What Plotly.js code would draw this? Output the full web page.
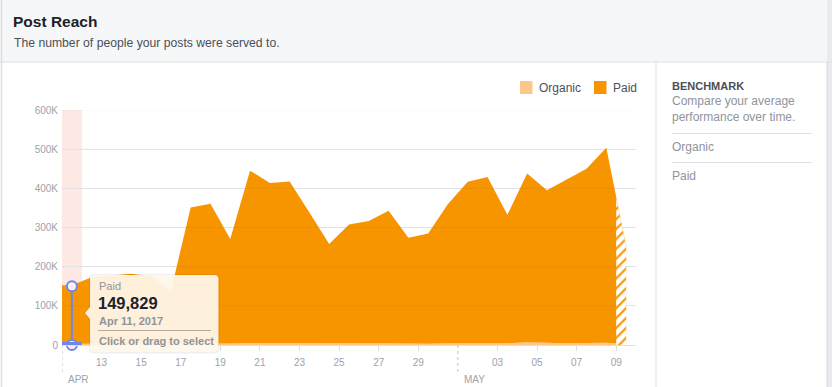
<!DOCTYPE html>
<html>
<head>
<meta charset="utf-8">
<script src="https://cdn.plot.ly/plotly-3.0.1.min.js"></script>
<style>
  html, body { margin: 0; padding: 0; background: #ffffff; }
  #chart { width: 832px; height: 387px; }
</style>
</head>
<body>
<div id="chart"></div>
<script>
// ---------------- data ----------------
const days = [
  '2017-04-11','2017-04-12','2017-04-13','2017-04-14','2017-04-15','2017-04-16','2017-04-17',
  '2017-04-18','2017-04-19','2017-04-20','2017-04-21','2017-04-22','2017-04-23','2017-04-24',
  '2017-04-25','2017-04-26','2017-04-27','2017-04-28','2017-04-29','2017-04-30','2017-05-01',
  '2017-05-02','2017-05-03','2017-05-04','2017-05-05','2017-05-06','2017-05-07','2017-05-08',
  '2017-05-09'
];
const paid = [
  149829, 170000, 175000, 179000, 172000, 134000, 347000,
  356000, 267000, 440000, 409000, 413000, 334000, 254000,
  304000, 312000, 338000, 270000, 281000, 356000, 412000,
  424000, 328000, 431000, 390000, 417000, 445000, 498000,
  250000
];
const organic = [
  3000, 3200, 3500, 3100, 3300, 2800, 4200,
  4500, 3900, 5200, 4800, 4600, 4100, 3600,
  3900, 4300, 4700, 3800, 3500, 4200, 4600,
  5100, 4400, 6800, 5200, 4700, 5000, 5600,
  2500
];
const seriesNames = ['Organic', 'Paid'];
const yTickVals = [0, 100000, 200000, 300000, 400000, 500000, 600000];
const yTickText = ['0', '100K', '200K', '300K', '400K', '500K', '600K'];
const xTickDates = ['2017-04-13','2017-04-15','2017-04-17','2017-04-19','2017-04-21','2017-04-23',
  '2017-04-25','2017-04-27','2017-04-29','2017-05-03','2017-05-05','2017-05-07','2017-05-09'];
const xTickText = ['13','15','17','19','21','23','25','27','29','03','05','07','09'];
const monthLabels = ['APR', 'MAY'];
const monthStarts = ['2017-04-11', '2017-05-01'];
const selectedIndex = 0;
const selectedDateLabel = 'Apr 11, 2017';

// ---------------- styling / geometry ----------------
const FONT = 'Liberation Sans, Arial, sans-serif';
const C_ORANGE = '#f69500';
const C_ORGANIC = '#fdc68a';
const C_BLUE = '#6f86e6';
const C_GREY = '#90949c';
const C_TICK = '#9ea2a9';
const C_LINE = '#dddfe2';
const W = 832, H = 387, L = 62, R = 636, T = 110, B = 345;
const px = x => (x - L) / (R - L);
const py = y => (B - y) / (B - T);

const noon = d => d + ' 12:00';
const xs = days.map(noon);
const total = paid.map((v, i) => v + organic[i]);
const n = days.length;

// left edge of first day carries first value (chart extends area to the day start)
const xsExt = [days[0] + ' 00:00'].concat(xs);
const organicExt = [organic[0]].concat(organic);
const paidExt = [paid[0]].concat(paid);

// partial last day (hatched): from the last day's start to its point
const hatchX = [days[n - 1] + ' 00:00', xs[n - 1]];
const hatchY = [(total[n - 2] + total[n - 1]) / 2, total[n - 1]];

const traces = [
  {
    name: seriesNames[0], x: xsExt, y: organicExt, type: 'scatter', mode: 'lines',
    stackgroup: 'one', fillcolor: C_ORGANIC, line: { width: 0, color: C_ORGANIC },
    hoverinfo: 'skip', showlegend: false
  },
  {
    name: seriesNames[1], x: xsExt, y: paidExt, type: 'scatter', mode: 'lines',
    stackgroup: 'one', fillcolor: C_ORANGE, line: { width: 0, color: C_ORANGE },
    hoverinfo: 'skip', showlegend: false
  },
  {
    name: 'partial', x: hatchX, y: hatchY, type: 'scatter', mode: 'lines',
    fill: 'tozeroy', fillcolor: '#ffffff',
    fillpattern: { shape: '/', fgcolor: C_ORANGE, bgcolor: '#ffffff', size: 7, solidity: 0.3 },
    line: { width: 0.6, color: '#fde2bd' }, hoverinfo: 'skip', showlegend: false
  },
  {
    name: 'selected', x: [xs[selectedIndex], xs[selectedIndex]], y: [0, paid[selectedIndex]],
    type: 'scatter', mode: 'lines+markers',
    line: { color: C_BLUE, width: 2 },
    marker: { symbol: 'circle', size: 10, color: '#fdf1ef', line: { color: C_BLUE, width: 2 } },
    hoverinfo: 'skip', showlegend: false, cliponaxis: false
  }
];

function rr(x0, y0, x1, y1, r, notch) {
  let p = `M ${px(x0 + r)},${py(y0)} L ${px(x1 - r)},${py(y0)} Q ${px(x1)},${py(y0)} ${px(x1)},${py(y0 + r)}`;
  p += ` L ${px(x1)},${py(y1 - r)} Q ${px(x1)},${py(y1)} ${px(x1 - r)},${py(y1)}`;
  p += ` L ${px(x0 + r)},${py(y1)} Q ${px(x0)},${py(y1)} ${px(x0)},${py(y1 - r)}`;
  if (notch) {
    p += ` L ${px(x0)},${py(notch + 6)} L ${px(x0 - 5)},${py(notch)} L ${px(x0)},${py(notch - 6)}`;
  }
  p += ` L ${px(x0)},${py(y0 + r)} Q ${px(x0)},${py(y0)} ${px(x0 + r)},${py(y0)} Z`;
  return p;
}

const shapes = [
  { type: 'rect', xref: 'paper', yref: 'paper', x0: px(0), x1: px(W), y0: py(62), y1: py(0),
    fillcolor: '#f6f7f9', line: { width: 0 }, layer: 'below' },
  { type: 'line', xref: 'paper', yref: 'paper', x0: px(0), x1: px(W), y0: py(62), y1: py(62),
    line: { color: C_LINE, width: 1 } },
  { type: 'line', xref: 'paper', yref: 'paper', x0: px(1.5), x1: px(1.5), y0: py(0), y1: py(H),
    line: { color: C_LINE, width: 1.5 } },
  { type: 'line', xref: 'paper', yref: 'paper', x0: px(656), x1: px(656), y0: py(62), y1: py(H),
    line: { color: C_LINE, width: 1 } },
  { type: 'rect', xref: 'paper', yref: 'paper', x0: px(827), x1: px(W + 2), y0: py(0), y1: py(H),
    fillcolor: '#e9ebee', line: { width: 0 }, layer: 'below' },
  { type: 'line', xref: 'paper', yref: 'paper', x0: px(827), x1: px(827), y0: py(62), y1: py(H),
    line: { color: '#d3d6db', width: 1 } },
  { type: 'line', xref: 'paper', yref: 'paper', x0: px(672), x1: px(812), y0: py(133.5), y1: py(133.5),
    line: { color: C_LINE, width: 1 } },
  { type: 'line', xref: 'paper', yref: 'paper', x0: px(672), x1: px(812), y0: py(162.5), y1: py(162.5),
    line: { color: C_LINE, width: 1 } },
  { type: 'rect', xref: 'paper', yref: 'paper', x0: px(520), x1: px(532.5), y0: py(94), y1: py(81),
    fillcolor: C_ORGANIC, line: { width: 0 } },
  { type: 'rect', xref: 'paper', yref: 'paper', x0: px(594), x1: px(606.5), y0: py(94), y1: py(81),
    fillcolor: C_ORANGE, line: { width: 0 } },
  { type: 'rect', xref: 'x', yref: 'y', x0: days[selectedIndex], x1: days[selectedIndex + 1],
    y0: 0, y1: 600000, fillcolor: '#fde8e3', line: { width: 0 }, layer: 'below' },
  { type: 'line', xref: 'x', yref: 'paper', x0: days[selectedIndex], x1: days[selectedIndex + 1],
    y0: py(343.5), y1: py(343.5), line: { color: C_BLUE, width: 3 } }
];
monthStarts.forEach(d => shapes.push({
  type: 'line', xref: 'x', yref: 'paper', x0: d, x1: d, y0: py(345), y1: py(373),
  line: { color: '#bec3c9', width: 1, dash: 'dot' }
}));
yTickVals.slice(1).forEach(v => shapes.push({
  type: 'line', xref: 'paper', yref: 'y', x0: 0, x1: 1, y0: v, y1: v,
  line: { color: 'rgba(40,30,20,0.045)', width: 1 }, layer: 'above'
}));
shapes.push({ type: 'path', xref: 'paper', yref: 'paper', path: rr(89, 274, 219.5, 353.5, 5, 313),
  fillcolor: 'rgba(0,0,0,0.06)', line: { width: 0 }, layer: 'above' });
shapes.push({ type: 'path', xref: 'paper', yref: 'paper', path: rr(90, 275, 218.5, 352, 4, 313),
  fillcolor: 'rgba(255,247,235,0.93)', line: { width: 0 }, layer: 'above' });
shapes.push({ type: 'line', xref: 'paper', yref: 'paper', x0: px(98), x1: px(211), y0: py(330.5), y1: py(330.5),
  line: { color: '#b3aca2', width: 1 }, layer: 'above' });

function ann(text, x, y, size, color, opts) {
  return Object.assign({
    text: text, xref: 'paper', yref: 'paper', x: px(x), y: py(y),
    xanchor: 'left', yanchor: 'middle', showarrow: false, borderpad: 0,
    font: { family: FONT, size: size, color: color }
  }, opts || {});
}

const annotations = [
  ann('The number of people your posts were served to.', 13, 43, 12.2, '#4b4f56'),
  ann(seriesNames[0], 538, 87.5, 12, '#4b4f56'),
  ann(seriesNames[1], 612, 87.5, 12, '#4b4f56'),
  ann('<b>BENCHMARK</b>', 671, 86, 11, '#4b4f56'),
  ann('Compare your average', 671, 101.5, 12, C_GREY),
  ann('performance over time.', 671, 117, 12, C_GREY),
  ann(seriesNames[0], 671, 146.5, 12, C_GREY),
  ann(seriesNames[1], 671, 175.5, 12, C_GREY),
  ann(seriesNames[1], 97.5, 285.5, 11, C_GREY),
  ann('<b>' + paid[selectedIndex].toLocaleString('en-US') + '</b>', 97, 302.5, 16.5, '#1d2129'),
  ann('<b>' + selectedDateLabel + '</b>', 97.5, 320.5, 11, C_GREY),
  ann('<b>Click or drag to select</b>', 97.5, 341, 11, C_GREY)
];
monthStarts.forEach((d, i) => annotations.push({
  text: monthLabels[i], xref: 'x', yref: 'paper', x: d, y: py(379), xshift: 5,
  xanchor: 'left', yanchor: 'middle', showarrow: false, borderpad: 0,
  font: { family: FONT, size: 10, color: C_TICK }
}));

const layout = {
  width: W, height: H,
  margin: { l: L, r: W - R, t: T, b: H - B, pad: 0 },
  paper_bgcolor: '#ffffff', plot_bgcolor: 'rgba(0,0,0,0)',
  font: { family: FONT },
  title: {
    text: 'Post Reach', xref: 'container', yref: 'container',
    x: 13 / W, xanchor: 'left', y: 1 - 22 / H, yanchor: 'middle',
    font: { family: FONT, size: 15.5, color: '#1d2129', weight: 'bold' }
  },
  showlegend: false,
  hovermode: false,
  xaxis: {
    type: 'date', range: ['2017-04-11 00:00', '2017-05-10 00:00'],
    showgrid: false, zeroline: false, showline: true, linecolor: C_LINE, linewidth: 1,
    ticks: 'outside', ticklen: 5, tickwidth: 1, tickcolor: C_LINE,
    tickvals: xTickDates, ticktext: xTickText, ticklabelstandoff: 3,
    tickfont: { family: FONT, size: 10, color: C_TICK }, fixedrange: true
  },
  yaxis: {
    range: [0, 600000], showgrid: true, gridcolor: '#e9ebee', gridwidth: 1,
    zeroline: false, showline: false, ticks: '',
    tickvals: yTickVals, ticktext: yTickText, ticklabelstandoff: 3,
    tickfont: { family: FONT, size: 10, color: C_TICK }, fixedrange: true
  },
  shapes: shapes,
  annotations: annotations
};

Plotly.newPlot('chart', traces, layout, { displayModeBar: false, staticPlot: true });
</script>
</body>
</html>
